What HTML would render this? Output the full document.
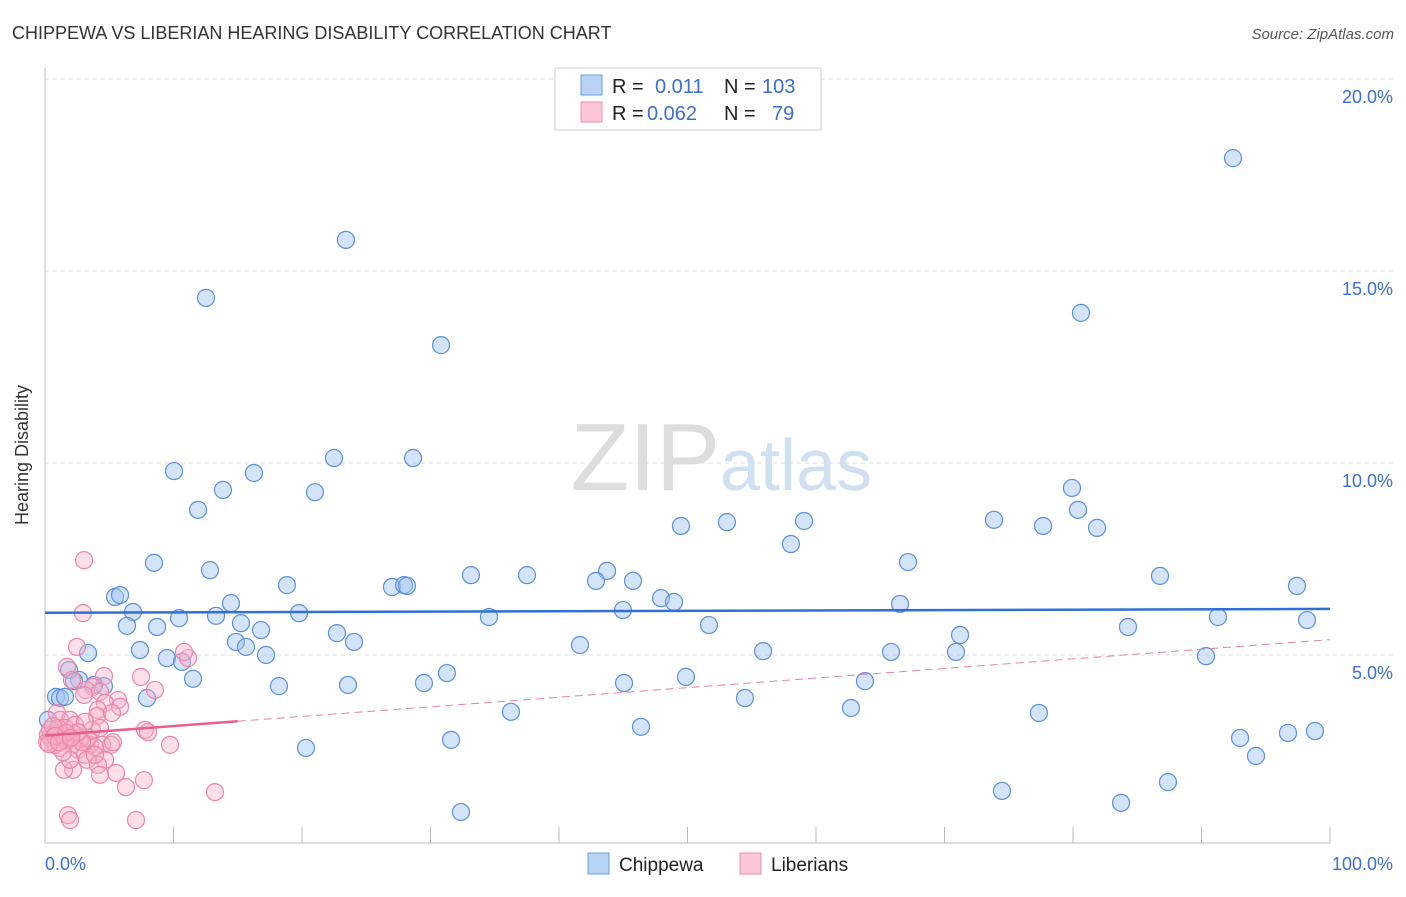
<!DOCTYPE html>
<html><head><meta charset="utf-8"><style>
body{margin:0;background:#fff;font-family:"Liberation Sans",sans-serif}
svg text{font-family:"Liberation Sans",sans-serif}
</style></head><body>
<svg width="1406" height="892" xmlns="http://www.w3.org/2000/svg">
<text x="12" y="39" font-size="18" fill="#333">CHIPPEWA VS LIBERIAN HEARING DISABILITY CORRELATION CHART</text>
<text x="1394" y="39" font-size="15" fill="#555" text-anchor="end" font-style="italic">Source: ZipAtlas.com</text>
<g id="grid"></g>
<text x="720" y="490" font-size="96" fill="#ddd" text-anchor="end" font-family="Liberation Serif">ZIP</text>
<text x="720" y="490" font-size="72" fill="#cfe0f2">atlas</text>
<line x1="45" y1="68" x2="45" y2="843" stroke="#bbb"/>
<line x1="45" y1="843" x2="1330" y2="843" stroke="#bbb"/>
<text x="28" y="455" font-size="18" fill="#333" text-anchor="middle" transform="rotate(-90 28 455)">Hearing Disability</text>
<text x="45" y="870" font-size="18" fill="#3a6fd0">0.0%</text>
<text x="1393" y="870" font-size="18" fill="#3a6fd0" text-anchor="end">100.0%</text>
<g id="pts"></g>
<g id="lines"></g>
<g>
<rect x="555" y="68" width="266" height="62" fill="#fff" stroke="#ccc"/>
<rect x="581" y="75" width="21" height="20" fill="#b8d3f5" stroke="#6a9ee0"/>
<rect x="581" y="102" width="21" height="20" fill="#fbc6d6" stroke="#ee8fae"/>
<text x="612" y="93" font-size="20" fill="#222">R = </text><text x="655" y="93" font-size="20" fill="#3a6fd0">0.011</text>
<text x="724" y="93" font-size="20" fill="#222">N = </text><text x="762" y="93" font-size="20" fill="#3a6fd0">103</text>
<text x="612" y="120" font-size="20" fill="#222">R = </text><text x="647" y="120" font-size="20" fill="#3a6fd0">0.062</text>
<text x="724" y="120" font-size="20" fill="#222">N = </text><text x="772" y="120" font-size="20" fill="#3a6fd0">79</text>
</g>
<g><rect x="588" y="853" width="21" height="21" fill="#b8d3f5" stroke="#6a9ee0"/><text x="619" y="871" font-size="19" fill="#222">Chippewa</text></g>
<g><rect x="740" y="853" width="21" height="21" fill="#fbc6d6" stroke="#ee8fae"/><text x="771" y="871" font-size="19" fill="#222">Liberians</text></g>
</svg>
<script>
const yTicks=[5,10,15,20];
const xTicks=[10,20,30,40,50,60,70,80,90,100];
const bluePx=[[346,240],[206,298],[1233,158],[1081,313],[441,345],[174,471],[254,473],[334,458],[413,458],[223,490],[315,492],[198,510],[1072,488],[1078,510],[994,520],[1043,526],[1097,528],[681,526],[727,522],[804,521],[791,544],[154,563],[210,570],[908,562],[607,571],[471,575],[527,575],[1160,576],[1297,586],[596,581],[633,581],[287,585],[392,587],[404,585],[407,586],[115,597],[120,595],[661,598],[674,602],[231,603],[900,604],[133,612],[179,618],[216,616],[299,613],[489,617],[623,610],[1218,617],[1307,620],[127,626],[157,627],[241,623],[261,630],[709,625],[1128,627],[337,633],[354,642],[236,642],[246,647],[266,655],[960,635],[580,645],[140,650],[88,653],[167,658],[182,662],[763,651],[891,652],[956,652],[1206,656],[447,673],[193,679],[686,677],[865,681],[279,686],[348,685],[424,683],[624,683],[79,680],[104,686],[56,697],[60,698],[745,698],[147,698],[851,708],[511,712],[1039,713],[641,727],[451,740],[1240,738],[1288,733],[1315,731],[306,748],[1256,756],[1168,782],[1002,791],[1121,803],[461,812],[69,670],[74,681],[94,685],[65,697],[48,720]];
const pinkPx=[[84,560],[83,613],[77,647],[67,667],[104,676],[141,677],[72,680],[93,687],[86,690],[100,692],[155,690],[188,658],[184,652],[84,695],[118,700],[105,703],[98,710],[120,707],[57,713],[60,720],[70,720],[97,716],[145,730],[148,732],[65,728],[75,735],[56,733],[50,737],[52,740],[60,738],[68,740],[80,738],[90,745],[102,745],[111,745],[113,742],[170,745],[72,745],[78,750],[85,755],[95,747],[60,748],[105,760],[87,760],[98,765],[73,770],[64,770],[116,773],[100,775],[144,780],[126,787],[215,792],[68,815],[70,820],[136,820],[48,735],[50,730],[55,745],[47,742],[62,735],[58,728],[53,726],[75,725],[65,740],[88,738],[92,730],[100,728],[95,755],[82,742],[70,760],[112,713],[85,722],[63,752],[78,732],[66,733],[55,736],[49,744],[59,742],[71,738]];
// data values (x %, y %) derived from readings
const blueX=bluePx.map(p=>+((p[0]-45)/12.85).toFixed(2));
const blueY=bluePx.map(p=>+((847-p[1])/38.4).toFixed(2));
const pinkX=pinkPx.map(p=>+((p[0]-45)/12.85).toFixed(2));
const pinkY=pinkPx.map(p=>+((847-p[1])/38.4).toFixed(2));
const blueTrend=[6.1,6.2];
const pinkTrend=[2.9,5.4];
const NS='http://www.w3.org/2000/svg';
const sx=v=>45+v*12.85, sy=v=>847-v*38.4;
function mk(t,a,parent){const e=document.createElementNS(NS,t);for(const k in a)e.setAttribute(k,a[k]);document.getElementById(parent).appendChild(e);return e;}
yTicks.forEach(t=>{
 const l=mk('line',{x1:45,x2:1395,y1:sy(t),y2:sy(t),stroke:'#ddd','stroke-dasharray':'4,4'},'grid');
 
 
 const tx=mk('text',{x:1393,y:sy(t)+24,'font-size':18,fill:'#3a6fd0','text-anchor':'end'},'grid');tx.textContent=t.toFixed(1)+'%';
 
 
});
xTicks.forEach(t=>{
 const l=mk('line',{x1:sx(t),x2:sx(t),y1:827,y2:843,stroke:'#bbb'},'grid');
 
 
});
blueX.forEach((x,i)=>{
 const c=mk('circle',{cx:sx(x),cy:sy(blueY[i]),r:8.5,fill:'rgba(160,195,240,0.45)',stroke:'#5a8fdc','stroke-width':1.2},'pts');
 
 
});
pinkX.forEach((x,i)=>{
 const c=mk('circle',{cx:sx(x),cy:sy(pinkY[i]),r:8.5,fill:'rgba(248,175,200,0.4)',stroke:'#ec86a8','stroke-width':1.2},'pts');
 
 
});
const bl=mk('line',{x1:sx(0),x2:sx(100),y1:sy(blueTrend[0]),y2:sy(blueTrend[1]),stroke:'#2f6fd6','stroke-width':2.5},'lines');


const pAt=x=>pinkTrend[0]+(pinkTrend[1]-pinkTrend[0])*x/100;
const pl=mk('line',{x1:sx(0),x2:sx(15),y1:sy(pAt(0)),y2:sy(pAt(15)),stroke:'#e8608a','stroke-width':2.5},'lines');


const pd=mk('line',{x1:sx(15),x2:sx(100),y1:sy(pAt(15)),y2:sy(pAt(100)),stroke:'#e8809f','stroke-width':1,'stroke-dasharray':'8,5'},'lines');


</script>
</body></html>
